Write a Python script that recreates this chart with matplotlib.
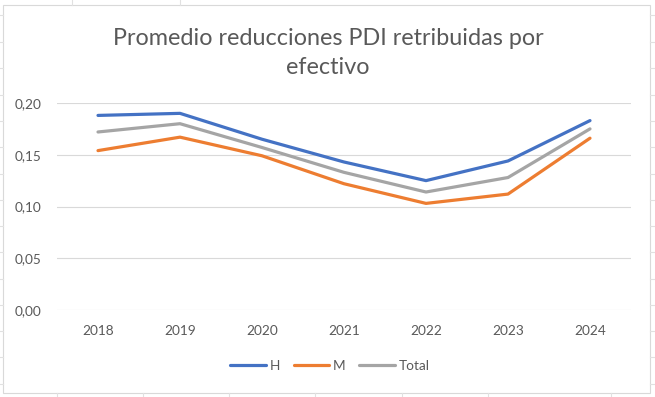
import matplotlib
matplotlib.use("Agg")
import matplotlib.pyplot as plt
from matplotlib.patches import Rectangle
from matplotlib.lines import Line2D

years = ["2018", "2019", "2020", "2021", "2022", "2023", "2024"]
h_vals = [0.188, 0.190, 0.165, 0.143, 0.125, 0.144, 0.183]
m_vals = [0.154, 0.167, 0.149, 0.122, 0.103, 0.112, 0.166]
total_vals = [0.172, 0.180, 0.157, 0.133, 0.114, 0.128, 0.175]
series_names = ["H", "M", "Total"]
colors = ["#4472C4", "#ED7D31", "#A5A5A5"]
yticks = [0.00, 0.05, 0.10, 0.15, 0.20]
title = "Promedio reducciones PDI retribuidas por\nefectivo"

plt.rcParams['font.family'] = ['Lato', 'DejaVu Sans']

W, H = 655, 397
fig = plt.figure(figsize=(W / 100, H / 100), dpi=100)
fig.patch.set_facecolor("white")

# spreadsheet background lines outside the chart
sheet = "#E1E1E1"
for x in [72, 180]:
    fig.add_artist(Line2D([x / W, x / W], [1 - 0 / H, 1 - 5 / H], color=sheet, lw=0.8))
for x in [57, 143, 229, 315, 402, 488, 611]:
    fig.add_artist(Line2D([x / W, x / W], [1 - 393 / H, 1 - 397 / H], color=sheet, lw=0.8))
for y in [15, 42, 68, 95, 121, 147, 174, 200, 226, 252, 279, 305, 331, 357, 384]:
    fig.add_artist(Line2D([0, 2.5 / W], [1 - y / H, 1 - y / H], color=sheet, lw=0.8))
    fig.add_artist(Line2D([650 / W, 1], [1 - y / H, 1 - y / H], color=sheet, lw=0.8))

# chart border
fig.add_artist(Rectangle((2.5 / W, 1 - 393 / H), (650 - 2.5) / W, (393 - 5) / H,
                         transform=fig.transFigure, fill=True, facecolor="white",
                         edgecolor="#D9D9D9", lw=0.8, zorder=0))

left, right = 57, 631
top, bottom = 103, 310
ax = fig.add_axes([left / W, 1 - bottom / H, (right - left) / W, (bottom - top) / H])
ax.set_facecolor("none")

x = list(range(len(years)))
for vals, name, c in zip([h_vals, m_vals, total_vals], series_names, colors):
    ax.plot(x, vals, color=c, lw=2.3, label=name, solid_capstyle="round",
            solid_joinstyle="round")

ax.set_xlim(-0.5, len(years) - 0.5)
ax.set_ylim(0, 0.20)
ax.set_yticks(yticks)
ax.set_yticklabels([f"{v:.2f}".replace(".", ",") for v in yticks])
ax.set_xticks(x)
ax.set_xticklabels(years)
ax.grid(axis="y", color="#D9D9D9", lw=0.8)
ax.set_axisbelow(True)
for s in ax.spines.values():
    s.set_visible(False)
ax.tick_params(axis="both", length=0, colors="#595959", labelsize=9.8)
ax.tick_params(axis="x", pad=11)
ax.tick_params(axis="y", pad=11)

fig.text(328 / W, 1 - 53 / H, title, ha="center", va="center", fontsize=16.8,
         color="#595959", linespacing=1.45)

handles = [Line2D([], [], color=c, lw=2.3, solid_capstyle="round") for c in colors]
fig.legend(handles, series_names, loc="center", bbox_to_anchor=(330 / W, 1 - 366 / H),
           ncol=3, frameon=False, fontsize=9.8, labelcolor="#595959",
           handlelength=2.6, handletextpad=0.3, columnspacing=1.0)

fig.savefig("out.png", dpi=100, facecolor="white")
